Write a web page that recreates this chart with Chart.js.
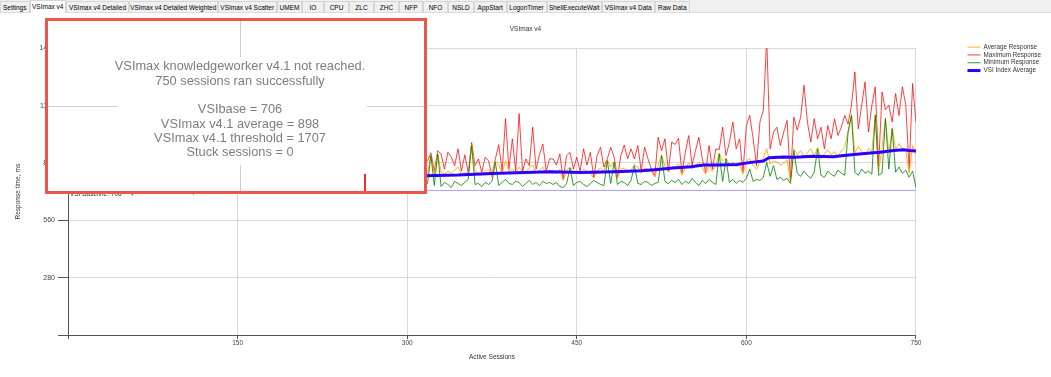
<!DOCTYPE html>
<html>
<head>
<meta charset="utf-8">
<title>VSImax v4</title>
<script src="https://cdn.jsdelivr.net/npm/chart.js@4.4.1/dist/chart.umd.min.js"></script>
<style>
  html, body { margin: 0; padding: 0; background: #fff; }
  #wrap { position: relative; width: 1051px; height: 377px; overflow: hidden; }
  #tabs { position: absolute; left: 0; top: 0; width: 1051px; height: 13px; background: #f0f0f0; border-bottom: 1px solid #dcdcdc; box-sizing: border-box; font: 6.5px "Liberation Sans", Arial, sans-serif; white-space: nowrap; }
  .tab { position: absolute; top: 1px; height: 12px; line-height: 11px; text-align: center; border: 1px solid #d6d6d6; border-bottom: none; box-sizing: border-box; color: #000; }
  .tab.active { top: 0; height: 13px; background: #fff; }
  canvas { position: absolute; left: 0; top: 0; }
</style>
</head>
<body>
<div id="wrap">
  <canvas id="chart" width="1051" height="377"></canvas>
  <div id="tabs"></div>
</div>
<script>
// sessions 3, 6, ... 750 for the three response series
const sessionStep = 3;
const sessions = Array.from({ length: 250 }, (_, i) => (i + 1) * sessionStep);

const maximumResponse = [
    840, 790, 880, 810, 760, 905, 820, 850, 775, 930, 800, 865, 790, 845, 760, 890, 815, 830, 780, 950, 805, 860, 770, 835, 900, 795, 820, 765, 880, 810, 845, 790, 925, 780, 860, 805, 770, 875, 820, 840,
    795, 910, 780, 850, 815, 765, 890, 800, 835, 775, 960, 810, 845, 790, 870, 760, 825, 900, 785, 850, 805, 880, 770, 840, 815, 935, 795, 860, 780, 825, 890, 800, 845, 770, 910, 815, 850, 790, 875, 805,
    840, 780, 920, 810, 860, 795, 830, 885, 775, 850, 810, 945, 790, 865, 820, 780, 895, 830, 850, 800, 870, 815, 905, 790, 860,
    850, 890, 800, 900, 884, 810, 892, 870, 827, 909, 800, 880, 790, 940, 827, 860, 794, 868, 850, 778, 860, 930, 800, 1056, 810, 958, 800, 1081, 800, 860, 827, 1015, 810, 880, 933, 800, 860,
    860, 830, 884, 760, 876, 892, 810, 868, 800, 909, 830, 892, 770, 876, 917, 820, 860, 917, 870, 770, 876, 928, 860, 909, 860, 925, 802, 917, 860, 810, 778, 966, 900, 958, 800, 942,
    930, 960, 790, 892, 974, 830, 900, 966, 860, 794, 925, 810, 909, 905, 1015, 876, 940, 1040, 909, 958, 794, 1023, 1072, 958, 827, 1040, 1097, 1450, 909, 991, 1015, 925, 990, 1048, 761, 1064,
    1000, 1064, 1220, 1040, 942, 1056, 958, 1015, 909, 1023, 958, 1056, 974, 1015, 1072, 1030, 1122, 1285, 1007, 1122, 1236, 991, 1122, 1212, 827, 1187, 1100, 1122, 1040, 1179, 1072, 1212, 1122, 810, 1228, 1040
];

const averageResponse = [
    752, 745, 760, 748, 740, 765, 750, 756, 742, 770, 748, 758, 744, 752, 740, 762, 750, 755, 746, 775, 752, 760, 744, 754, 768, 748, 756, 742, 764, 750, 758, 746, 772, 748, 760, 752, 744, 766, 754, 758,
    748, 770, 750, 760, 754, 744, 768, 752, 758, 748, 780, 756, 762, 750, 766, 746, 758, 772, 752, 764, 756, 770, 748, 762, 758, 778, 754, 766, 752, 760, 774, 756, 764, 750, 776, 760, 766, 754, 772, 760,
    766, 756, 782, 762, 770, 758, 766, 778, 756, 770, 762, 786, 760, 774, 766, 758, 780, 768, 772, 762, 778, 768, 790, 764, 776,
    790, 880, 780, 890, 795, 785, 800, 790, 805, 820, 785, 795, 780, 930, 800, 790, 780, 800, 810, 770, 850, 830, 790, 850, 800, 810, 790, 820, 795, 800, 815, 830, 790, 805, 820, 790, 800,
    800, 790, 810, 755, 805, 820, 795, 800, 785, 810, 800, 790, 765, 805, 815, 800, 855, 820, 848, 765, 810, 815, 800, 805, 832, 820, 790, 815, 810, 800, 770, 830, 880, 825, 795, 820,
    820, 835, 780, 815, 840, 810, 825, 845, 815, 785, 830, 800, 825, 890, 850, 865, 830, 845, 820, 835, 785, 850, 860, 830, 810, 845, 865, 910, 835, 850, 845, 830, 840, 855, 750, 910,
    880, 900, 870, 890, 910, 875, 915, 860, 885, 905, 880, 895, 870, 900, 915, 996, 1077, 890, 920, 895, 880, 910, 895, 1077, 800, 915, 1061, 890, 1012, 905, 935, 910, 900, 790, 925, 880
];

const minimumResponse = [
    722, 715, 730, 718, 708, 735, 720, 726, 712, 740, 716, 728, 714, 722, 706, 732, 718, 724, 682, 745, 720, 728, 710, 722, 736, 716, 724, 708, 734, 718, 726, 714, 742, 712, 728, 720, 686, 736, 722, 726,
    714, 740, 716, 728, 722, 708, 738, 718, 726, 712, 748, 722, 730, 716, 734, 708, 724, 740, 716, 730, 722, 738, 712, 728, 724, 746, 718, 732, 716, 726, 740, 720, 730, 712, 744, 724, 730, 718, 738, 722,
    730, 716, 748, 724, 734, 720, 728, 742, 716, 732, 724, 752, 718, 736, 728, 716, 744, 730, 734, 722, 740, 728, 750, 720, 736,
    740, 876, 730, 884, 725, 745, 735, 720, 750, 740, 730, 745, 760, 925, 735, 740, 725, 745, 735, 750, 843, 730, 745, 760, 740, 735, 750, 745, 725, 740, 755, 735, 745, 730, 750, 740, 745,
    735, 745, 725, 720, 740, 815, 730, 745, 750, 735, 725, 740, 755, 745, 735, 730, 850, 740, 843, 735, 750, 745, 730, 755, 827, 740, 735, 750, 745, 730, 740, 745, 876, 750, 740, 755,
    745, 760, 735, 750, 740, 765, 745, 730, 755, 740, 760, 745, 735, 884, 750, 860, 745, 760, 740, 755, 745, 765, 810, 750, 760, 755, 770, 843, 775, 827, 760, 770, 755, 765, 740, 900,
    790, 775, 800, 780, 765, 795, 909, 780, 770, 800, 785, 775, 805, 790, 780, 991, 1072, 795, 780, 810, 790, 800, 785, 1072, 780, 790, 1056, 810, 1007, 795, 820, 790, 805, 770, 800, 720
];

const vsiSessions = [3, 50, 100, 150, 200, 250, 300, 316, 345, 375, 404, 426, 454, 483, 507, 519, 535, 551, 562, 577, 592, 604, 615, 620, 633, 643, 659, 677, 686, 700, 718, 730, 739, 744, 750];
const vsiIndexAverage = [712, 728, 740, 750, 758, 766, 772, 778, 781, 789, 794, 797, 794, 797, 802, 807, 815, 822, 830, 830, 833, 843, 850, 866, 869, 868, 873, 871, 876, 884, 892, 901, 905, 901, 899];

const vsiBaseline = 706;
const sessionRange = [0, 750];
const responseMax = 1400;
const responseStep = 280;
const sessionTickStep = 150;

const summaryLines = [
    "VSImax knowledgeworker v4.1 not reached.",
    "750 sessions ran successfully",
    "",
    "VSIbase = 706",
    "VSImax v4.1 average = 898",
    "VSImax v4.1 threshold = 1707",
    "Stuck sessions = 0"
];

const tabNames = ["Settings", "VSImax v4", "VSImax v4 Detailed", "VSImax v4 Detailed Weighted", "VSImax v4 Scatter", "UMEM", "IO", "CPU", "ZLC", "ZHC", "NFP", "NFO", "NSLD", "AppStart", "LogonTimer", "ShellExecuteWait", "VSImax v4 Data", "Raw Data"];
const tabEdges = [0, 29.5, 66, 129, 217.5, 277, 302, 324, 349, 374, 399, 423, 448, 474, 506.5, 546.5, 602, 654.5, 690];

// Tab strip
const tabBar = document.getElementById("tabs");
tabNames.forEach((name, i) => {
    const div = document.createElement("div");
    div.className = "tab" + (i === 1 ? " active" : "");
    div.style.left = tabEdges[i] + "px";
    div.style.width = (tabEdges[i + 1] - tabEdges[i]) + "px";
    div.textContent = name;
    tabBar.appendChild(div);
});

const toPoints = (xs, ys) => xs.map((x, i) => ({ x, y: ys[i] }));

const smallFont = "'Liberation Sans', Arial, sans-serif";
const axisColor = "#555";
const gridColor = "#d9d9d9";

const overlay = {
    id: "overlay",
    afterDatasetsDraw(chart) {
        const { ctx, chartArea, scales: { y } } = chart;
        ctx.save();
        ctx.font = "6.5px " + smallFont;
        ctx.fillStyle = "#333";
        ctx.textBaseline = "top";
        ctx.fillText("VSI Baseline: " + vsiBaseline, chartArea.left + 2, y.getPixelForValue(vsiBaseline) + 1);
        ctx.restore();
    },
    afterDraw(chart) {
        const { ctx, scales: { x, y } } = chart;
        const box = { left: 45, top: 18, right: 427, bottom: 194 };
        const textArea = { left: 117, top: 57, right: 367, bottom: 165 };
        ctx.save();
        ctx.fillStyle = "#fff";
        ctx.fillRect(box.left, box.top, box.right - box.left, box.bottom - box.top);

        // bits of the grid that show round the summary text
        ctx.strokeStyle = "#cccccc";
        ctx.lineWidth = 1;
        const gx = Math.round(x.getPixelForValue(sessionTickStep)) + 2.5;
        const gy = Math.round(y.getPixelForValue(responseStep * 4)) + 0.5;
        ctx.beginPath();
        ctx.moveTo(gx, box.top); ctx.lineTo(gx, textArea.top);
        ctx.moveTo(gx, textArea.bottom); ctx.lineTo(gx, box.bottom);
        ctx.moveTo(box.left, gy); ctx.lineTo(textArea.left, gy);
        ctx.moveTo(textArea.right, gy); ctx.lineTo(box.right, gy);
        ctx.stroke();

        ctx.fillStyle = "#7d7d7d";
        ctx.font = "12.8px 'Liberation Sans', Arial, sans-serif";
        ctx.textAlign = "center";
        ctx.textBaseline = "middle";
        summaryLines.forEach((line, i) => {
            ctx.fillText(line, 240, 66.8 + i * 14.3);
        });

        ctx.fillStyle = "#e8302a";
        ctx.fillRect(364, 174, 2, 17);

        ctx.strokeStyle = "#f0554d";
        ctx.lineWidth = 3;
        ctx.strokeRect(box.left + 1.5, box.top + 1.5, box.right - box.left - 3, box.bottom - box.top - 3);
        ctx.restore();
    }
};

const ctx = document.getElementById("chart").getContext("2d");
const chart = new Chart(ctx, {
    type: "line",
    data: {
        datasets: [
            { label: "Average Response", data: toPoints(sessions, averageResponse), borderColor: "rgba(255,165,0,0.85)", backgroundColor: "#ffa500", borderWidth: 1, order: 2 },
            { label: "Maximum Response", data: toPoints(sessions, maximumResponse), borderColor: "rgba(255,0,0,0.75)", backgroundColor: "#ff0000", borderWidth: 1, order: 3 },
            { label: "Minimum Response", data: toPoints(sessions, minimumResponse), borderColor: "rgba(0,128,0,0.8)", backgroundColor: "#008000", borderWidth: 1, order: 1 },
            { label: "VSI Index Average", data: toPoints(vsiSessions, vsiIndexAverage), borderColor: "#2a00ff", backgroundColor: "#2a00ff", borderWidth: 3, order: 0 },
            { label: "VSI Baseline", data: toPoints(sessionRange, [vsiBaseline, vsiBaseline]), borderColor: "#a59ff2", backgroundColor: "#a59ff2", borderWidth: 1, order: 4 }
        ]
    },
    options: {
        responsive: false,
        animation: false,
        layout: { padding: { top: 14, left: 0, right: 0, bottom: 0 } },
        elements: {
            point: { radius: 0, hoverRadius: 0, pointStyle: "line" },
            line: { tension: 0 }
        },
        plugins: {
            tooltip: { enabled: false },
            title: {
                display: true,
                text: "VSImax v4",
                color: "#333",
                font: { family: smallFont, size: 6.5, weight: "normal" },
                padding: { top: 11, bottom: 15.5 }
            },
            legend: {
                position: "right",
                align: "start",
                title: { display: true, text: " ", font: { size: 5 }, padding: { top: 22.5, bottom: 0 } },
                labels: {
                    usePointStyle: true,
                    pointStyleWidth: 13,
                    boxHeight: 6,
                    padding: 1.5,
                    color: "#333",
                    font: { family: smallFont, size: 6.3 },
                    filter: item => item.text !== "VSI Baseline",
                    sort: (a, b) => a.datasetIndex - b.datasetIndex
                }
            }
        },
        scales: {
            x: {
                type: "linear",
                min: sessionRange[0],
                max: sessionRange[1],
                afterFit: scale => { scale.height = 42; },
                ticks: {
                    stepSize: sessionTickStep,
                    padding: 0,
                    maxRotation: 0,
                    color: "#444",
                    font: { family: smallFont, size: 6.5 },
                    callback: v => (v === 0 ? "" : v)
                },
                grid: { color: gridColor, tickColor: axisColor, tickLength: 4 },
                border: { color: axisColor },
                title: { display: true, text: "Active Sessions", color: "#333", font: { family: smallFont, size: 6.5 }, padding: { top: 0, bottom: 16 } }
            },
            y: {
                min: 0,
                max: responseMax,
                afterFit: scale => { scale.width = 68; },
                ticks: {
                    stepSize: responseStep,
                    padding: 3,
                    color: "#444",
                    font: { family: smallFont, size: 7 },
                    callback: v => (v === 0 ? "" : v)
                },
                grid: { color: gridColor, tickColor: axisColor, tickLength: 10 },
                border: { color: axisColor },
                title: { display: true, text: "Response time, ms", color: "#333", font: { family: smallFont, size: 6.5 }, padding: { top: 14, bottom: 0 } }
            },
            gap: {
                axis: "y",
                position: "right",
                display: true,
                afterFit: scale => { scale.width = 50; },
                grid: { display: false, drawTicks: false },
                border: { display: false },
                ticks: { display: false }
            }
        }
    },
    plugins: [overlay]
});
</script>
</body>
</html>
